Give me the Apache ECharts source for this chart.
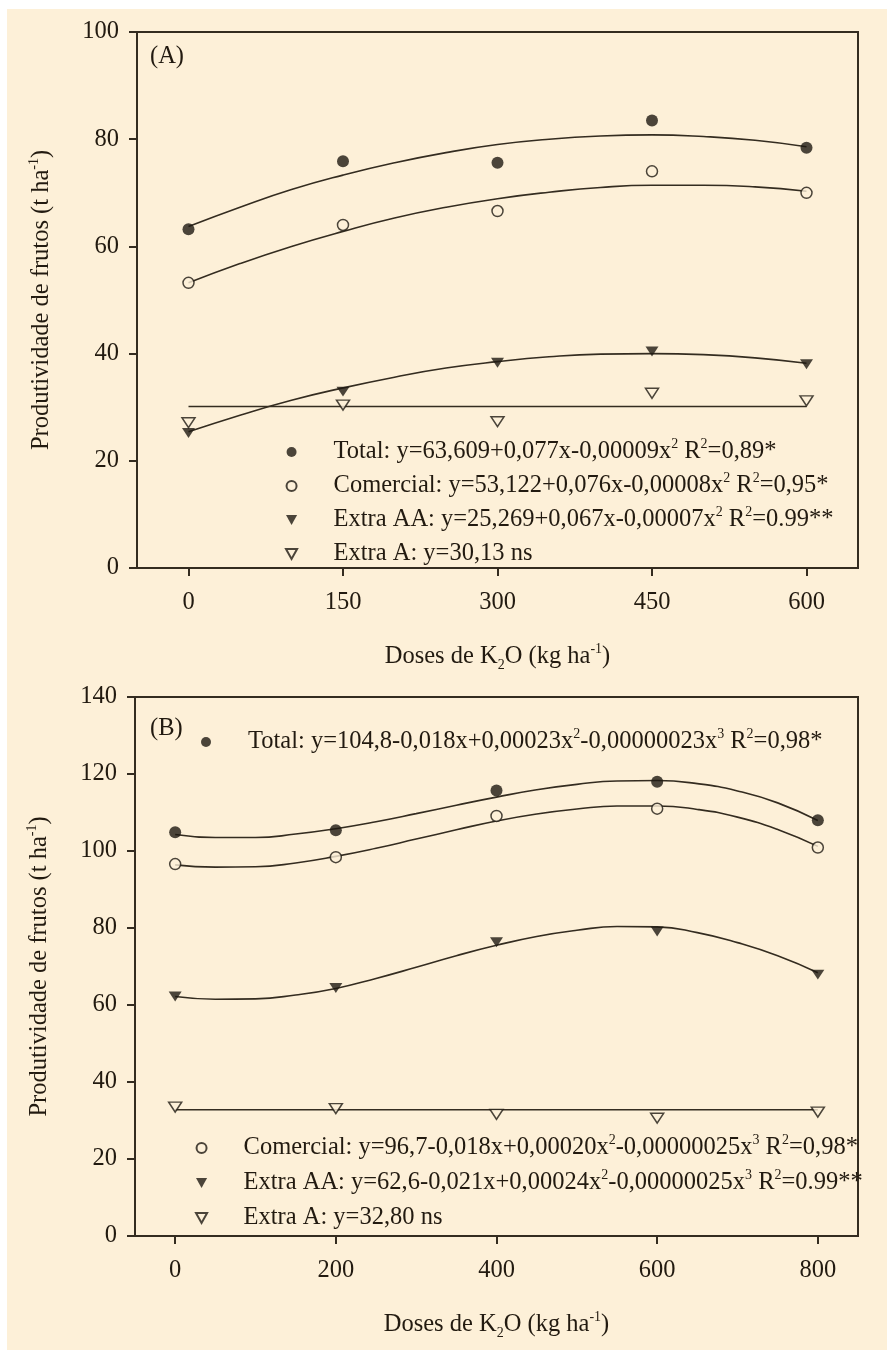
<!DOCTYPE html>
<html>
<head>
<meta charset="utf-8">
<script src="https://cdn.jsdelivr.net/npm/echarts@6/dist/echarts.min.js"></script>
<style>
html, body { margin: 0; padding: 0; background: #fff; }
#chart { width: 887px; height: 1350px; }
</style>
</head>
<body>
<div id="chart"></div>
<script>
// doses de K2O
const dosesA = [0, 150, 300, 450, 600];
const dosesB = [0, 200, 400, 600, 800];

// (A) observed values
const totalA = [63.2, 75.9, 75.6, 83.5, 78.4];
const comercialA = [53.2, 64.0, 66.6, 74.0, 70.0];
const extraAA_A = [25.2, 32.9, 38.3, 40.4, 38.0];
const extraA_A = [27.1, 30.4, 27.3, 32.6, 31.2];

// (A) fitted curves, every 50 kg
const fitXA = [0, 50, 100, 150, 200, 250, 300, 350, 400, 450, 500, 550, 600];
const fitTotalA = [63.7, 67.3, 70.6, 73.3, 75.6, 77.5, 79.0, 80.0, 80.6, 80.8, 80.5, 79.8, 78.6];
const fitComercialA = [53.2, 56.8, 60.0, 62.8, 65.3, 67.3, 68.9, 70.1, 71.0, 71.4, 71.4, 71.1, 70.3];
const fitExtraAA_A = [25.4, 28.5, 31.3, 33.6, 35.6, 37.3, 38.5, 39.4, 39.9, 40.0, 39.8, 39.2, 38.2];
const lineXA = [0, 600];
const fitExtraA_A = [30.13, 30.13];

// (B) observed values
const totalB = [104.9, 105.4, 115.7, 118.0, 108.0];
const comercialB = [96.6, 98.4, 109.1, 111.0, 100.9];
const extraAA_B = [62.2, 64.4, 76.3, 79.1, 67.9];
const extraA_B = [33.5, 33.1, 31.6, 30.6, 32.2];

// (B) fitted curves, every 50 kg
const fitXB = [0, 50, 100, 150, 200, 250, 300, 350, 400, 450, 500, 550, 600, 650, 700, 750, 800];
const fitTotalB = [104.3, 103.5, 103.5, 104.4, 105.8, 107.6, 109.7, 111.9, 114.0, 115.9, 117.3, 118.2, 118.3, 117.5, 115.6, 112.5, 107.9];
const fitComercialB = [96.4, 95.8, 95.9, 96.9, 98.6, 100.7, 103.1, 105.5, 107.8, 109.6, 110.9, 111.7, 111.7, 110.8, 108.8, 105.6, 101.2];
const fitExtraAA_B = [62.2, 61.5, 61.6, 62.6, 64.3, 66.9, 69.8, 72.8, 75.5, 77.8, 79.4, 80.4, 80.3, 78.8, 76.2, 72.8, 68.4];
const lineXB = [0, 800];
const fitExtraA_B = [32.8, 32.8];

const ticksXA = [0, 150, 300, 450, 600];
const ticksXB = [0, 200, 400, 600, 800];

const legendText = {
    'Total A': 'Total: y=63,609+0,077x-0,00009x{sup|2} R{sup|2}=0,89*',
    'Comercial A': 'Comercial: y=53,122+0,076x-0,00008x{sup|2} R{sup|2}=0,95*',
    'Extra AA A': 'Extra AA: y=25,269+0,067x-0,00007x{sup|2} R{sup|2}=0.99**',
    'Extra A A': 'Extra A: y=30,13 ns',
    'Total B': 'Total: y=104,8-0,018x+0,00023x{sup|2}-0,00000023x{sup|3} R{sup|2}=0,98*',
    'Comercial B': 'Comercial: y=96,7-0,018x+0,00020x{sup|2}-0,00000025x{sup|3} R{sup|2}=0,98*',
    'Extra AA B': 'Extra AA: y=62,6-0,021x+0,00024x{sup|2}-0,00000025x{sup|3} R{sup|2}=0.99**',
    'Extra A B': 'Extra A: y=32,80 ns'
};

const FONT = '"Liberation Serif", "Times New Roman", serif';
const DARK = '#342c20';
const TXT = '#221a10';
const CREAM = '#fdf0d8';
const TRI_DOWN = 'path://M0,0L10,0L5,9Z';

const rich = {
    sup: { fontSize: 14, fontFamily: FONT, color: TXT, verticalAlign: 'top', lineHeight: 14 },
    sub: { fontSize: 14, fontFamily: FONT, color: TXT, verticalAlign: 'bottom', lineHeight: 14 }
};
const baseText = { fontSize: 24.5, fontFamily: FONT, color: TXT, lineHeight: 30, rich: rich };

const pts = (xs, ys) => xs.map((x, i) => [x, ys[i]]);

const markStyles = {
    total: { symbol: 'circle', symbolSize: 12, itemStyle: { color: '#1e1912' } },
    comercial: { symbol: 'circle', symbolSize: 11, itemStyle: { color: CREAM, borderColor: '#1e1912', borderWidth: 1.5 } },
    extraAA: { symbol: TRI_DOWN, symbolSize: [13, 11], itemStyle: { color: '#1e1912' } },
    extraA: { symbol: TRI_DOWN, symbolSize: [13, 11], itemStyle: { color: CREAM, borderColor: '#1e1912', borderWidth: 1.5 } }
};

function scatter(name, kind, idx, xs, ys) {
    return Object.assign({
        name: name, type: 'scatter', xAxisIndex: idx, yAxisIndex: idx,
        symbolKeepAspect: true, z: 4, data: pts(xs, ys)
    }, markStyles[kind]);
}
function curve(idx, xs, ys) {
    return {
        type: 'line', xAxisIndex: idx, yAxisIndex: idx, smooth: true, symbol: 'none',
        lineStyle: { color: DARK, width: 1.6 }, z: 2, silent: true, data: pts(xs, ys)
    };
}
function xAxisCfg(idx, max, ticks) {
    return {
        type: 'value', gridIndex: idx, min: -50, max: max,
        axisLine: { onZero: false, lineStyle: { color: DARK, width: 2 } },
        axisTick: { length: 8, customValues: ticks, lineStyle: { color: DARK, width: 2 } },
        axisLabel: { customValues: ticks, margin: 22, fontSize: 24.5, fontFamily: FONT, color: TXT },
        splitLine: { show: false },
        name: 'Doses de K{sub|2}O (kg ha{sup|-1})', nameLocation: 'middle', nameGap: 74,
        nameTextStyle: baseText
    };
}
function yAxisCfg(idx, max) {
    return {
        type: 'value', gridIndex: idx, min: 0, max: max, interval: 20,
        axisLine: { show: true, onZero: false, lineStyle: { color: DARK, width: 2 } },
        axisTick: { show: true, length: 8, lineStyle: { color: DARK, width: 2 } },
        axisLabel: { margin: 18, fontSize: 24.5, fontFamily: FONT, color: TXT },
        splitLine: { show: false },
        name: 'Produtividade de frutos (t ha{sup|-1})', nameLocation: 'middle', nameRotate: 90, nameGap: 80,
        nameTextStyle: baseText
    };
}
function legendCfg(names, left, top, gap) {
    return {
        data: names, orient: 'vertical', left: left, top: top, itemWidth: 74, itemHeight: 10, itemGap: gap,
        padding: 0, selectedMode: false, formatter: n => legendText[n], textStyle: baseText
    };
}

const chart = echarts.init(document.getElementById('chart'));
chart.setOption({
    backgroundColor: '#fff',
    animation: false,
    graphic: [{ type: 'rect', z: -10, silent: true, shape: { x: 7, y: 9, width: 880, height: 1341 }, style: { fill: CREAM } }],
    title: [
        { text: '(A)', left: 150, top: 44, padding: 0, textStyle: { fontSize: 24.5, fontWeight: 'normal', fontFamily: FONT, color: TXT } },
        { text: '(B)', left: 150, top: 716, padding: 0, textStyle: { fontSize: 24.5, fontWeight: 'normal', fontFamily: FONT, color: TXT } }
    ],
    grid: [
        { left: 137, top: 32, width: 721, height: 536, show: true, borderColor: DARK, borderWidth: 2, backgroundColor: 'transparent' },
        { left: 135, top: 697, width: 723, height: 539, show: true, borderColor: DARK, borderWidth: 2, backgroundColor: 'transparent' }
    ],
    xAxis: [xAxisCfg(0, 650, ticksXA), xAxisCfg(1, 850, ticksXB)],
    yAxis: [yAxisCfg(0, 100), yAxisCfg(1, 140)],
    legend: [
        legendCfg(['Total A', 'Comercial A', 'Extra AA A', 'Extra A A'], 285, 437, 4),
        legendCfg(['Total B'], 201, 727, 4),
        legendCfg(['Comercial B', 'Extra AA B', 'Extra A B'], 195, 1133, 5)
    ],
    series: [
        curve(0, fitXA, fitTotalA),
        curve(0, fitXA, fitComercialA),
        curve(0, fitXA, fitExtraAA_A),
        curve(0, lineXA, fitExtraA_A),
        scatter('Total A', 'total', 0, dosesA, totalA),
        scatter('Comercial A', 'comercial', 0, dosesA, comercialA),
        scatter('Extra AA A', 'extraAA', 0, dosesA, extraAA_A),
        scatter('Extra A A', 'extraA', 0, dosesA, extraA_A),
        curve(1, fitXB, fitTotalB),
        curve(1, fitXB, fitComercialB),
        curve(1, fitXB, fitExtraAA_B),
        curve(1, lineXB, fitExtraA_B),
        scatter('Total B', 'total', 1, dosesB, totalB),
        scatter('Comercial B', 'comercial', 1, dosesB, comercialB),
        scatter('Extra AA B', 'extraAA', 1, dosesB, extraAA_B),
        scatter('Extra A B', 'extraA', 1, dosesB, extraA_B)
    ]
});
window.onresize = () => chart.resize();
</script>
</body>
</html>
